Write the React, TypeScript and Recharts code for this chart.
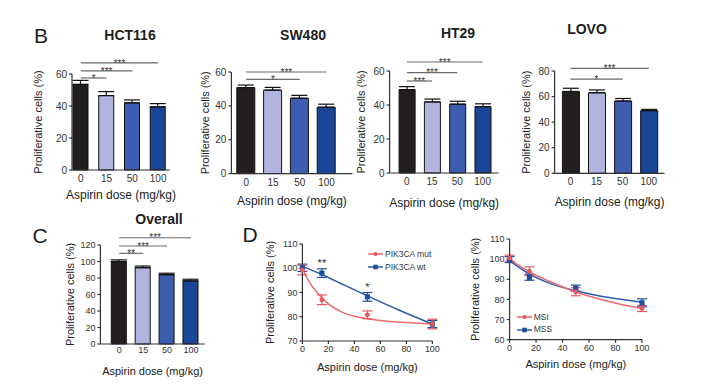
import React from "react";
import {
  BarChart,
  Bar,
  Cell,
  ErrorBar,
  XAxis,
  YAxis,
  ReferenceLine,
  ReferenceDot,
  ComposedChart,
  Line,
  Scatter,
  Legend,
} from "recharts";

// ---- data ----
const doses = ["0", "15", "50", "100"];

const hctMeans = [53.5, 46.5, 42, 39.5];
const hctErr = [2.5, 2.5, 1.8, 2];
const swMeans = [50.8, 49.3, 44.5, 39.2];
const swErr = [1.5, 1.6, 1.7, 1.8];
const htMeans = [49, 41.8, 40.5, 39];
const htErr = [1.8, 1.7, 1.7, 1.7];
const lovoMeans = [64, 63, 56.5, 49];
const lovoErr = [2.5, 2.2, 2, 1];
const allMeans = [100, 92.5, 84, 76.5];
const allErr = [2, 2, 1.8, 2];

// significance brackets: from dose "0" to `to`, drawn at level y
const hctSig = [
  { to: "15", y: 57.5, mark: "*" },
  { to: "50", y: 61.9, mark: "***" },
  { to: "100", y: 66.9, mark: "***" },
];
const swSig = [
  { to: "50", y: 55.7, mark: "*" },
  { to: "100", y: 60, mark: "***" },
];
const htSig = [
  { to: "15", y: 54.1, mark: "***" },
  { to: "50", y: 59, mark: "***" },
  { to: "100", y: 65.3, mark: "***" },
];
const lovoSig = [
  { to: "50", y: 73.7, mark: "*" },
  { to: "100", y: 82.1, mark: "***" },
];
const allSig = [
  { to: "15", y: 109.9, mark: "**" },
  { to: "50", y: 118.8, mark: "***" },
  { to: "100", y: 128.8, mark: "***" },
];

const doseNum = [0, 15, 50, 100];
const mutMeans = [99.3, 87, 80.8, 77];
const mutErr = [2, 2, 1.6, 2];
const wtMeans = [100.2, 98, 88.2, 77];
const wtErr = [1.5, 1.8, 1.8, 1.5];
const mutFitX = [0, 5, 10, 15, 20, 30, 40, 50, 60, 80, 100];
const mutFitY = [99.8, 94.6, 90.8, 87.8, 85.3, 82, 80.2, 79.2, 78.5, 77.6, 77];
const wtFitX = [0, 15, 30, 50, 75, 100];
const wtFitY = [100.8, 97.4, 93.6, 88.6, 82.6, 77];
const pikStars = [
  { x: 15, y: 102, mark: "**" },
  { x: 50, y: 92.3, mark: "*" },
];

const msiMeans = [100.5, 94, 83.8, 75.5];
const msiErr = [1.5, 2.2, 2, 1.5];
const mssMeans = [99.8, 91, 85.6, 78.3];
const mssErr = [1.5, 1.5, 1.5, 2];
const msiFitX = [0, 15, 30, 50, 75, 100];
const msiFitY = [100, 93.6, 89, 83.7, 79, 75.5];
const mssFitX = [0, 15, 30, 50, 75, 100];
const mssFitY = [99.3, 92.6, 88.1, 84.3, 80.9, 78.6];

const barFills = ["#231f20", "#b1b4de", "#3d5eb0", "#1b4597"];
const RED = "#e8585f";
const BLUE = "#1f4f9f";
const AXIS = "#333";
const YLABEL = "Proliferative cells (%)";
const XLABEL = "Aspirin dose (mg/kg)";

function Caption({ x, y, size, bold, children }: any) {
  return (
    <div
      style={{
        position: "absolute",
        left: x,
        top: y,
        transform: "translate(-50%, -50%)",
        fontSize: size,
        fontWeight: bold ? 700 : 400,
        lineHeight: 1,
        whiteSpace: "nowrap",
        color: "#1d1d1d",
      }}
    >
      {children}
    </div>
  );
}

function BarPanel(p: any) {
  const mt = 40;
  const mr = 8;
  const data = doses.map((d, i) => ({ dose: d, mean: p.means[i], err: [0, p.errs[i]] }));
  return (
    <div style={{ position: "absolute", left: p.x0 - p.yW, top: p.yTop - mt }}>
      <BarChart
        width={p.yW + p.pw + mr}
        height={mt + p.ph + p.xH}
        data={data}
        margin={{ top: mt, right: mr, bottom: 0, left: 0 }}
      >
        <XAxis
          dataKey="dose"
          height={p.xH}
          padding={p.pad}
          tickLine={false}
          tickSize={p.tickGap}
          tickMargin={1}
          stroke={AXIS}
          strokeWidth={1.2}
          tick={{ fontSize: p.tickFont, fill: AXIS }}
          label={{ value: XLABEL, position: "center", fontSize: p.xFont, fill: "#222" }}
        />
        <YAxis
          width={p.yW}
          domain={[0, p.yMax]}
          ticks={p.yTicks}
          tickSize={3}
          tickMargin={2}
          stroke={AXIS}
          strokeWidth={1.2}
          tick={{ fontSize: p.tickFont, fill: AXIS }}
          label={{ value: YLABEL, angle: -90, position: "center", fontSize: 11, fill: "#222" }}
        />
        <Bar dataKey="mean" barSize={p.barSize} stroke="#111" strokeWidth={1} isAnimationActive={false}>
          {data.map((_, i) => (
            <Cell key={i} fill={barFills[i]} />
          ))}
          <ErrorBar dataKey="err" width={8} stroke="#111" strokeWidth={1.2} />
        </Bar>
        {p.sigs.map((s: any) => (
          <ReferenceLine
            key={s.to}
            segment={[
              { x: "0", y: s.y },
              { x: s.to, y: s.y },
            ]}
            stroke="#6a6a6a"
            strokeWidth={1.2}
            ifOverflow="visible"
            label={{ value: s.mark, position: "center", fontSize: 10, fill: "#333" }}
          />
        ))}
      </BarChart>
    </div>
  );
}

function DoseLegend({ payload }: any) {
  const items = (payload || [])
    .filter((it: any) => it.type === "square" || it.type === "circle")
    .sort((a: any, b: any) => (a.value < b.value ? -1 : 1));
  return (
    <div style={{ fontSize: 8.5, color: "#333", lineHeight: "12.5px" }}>
      {items.map((it: any) => (
        <div key={it.value} style={{ display: "flex", alignItems: "center", whiteSpace: "nowrap" }}>
          <svg width={15} height={8}>
            <line x1={0} y1={4} x2={15} y2={4} stroke={it.color} strokeWidth={1.4} />
            {it.type === "square" ? (
              <rect x={5.2} y={1.7} width={4.6} height={4.6} fill={it.color} />
            ) : (
              <circle cx={7.5} cy={4} r={2.1} fill={it.color} />
            )}
          </svg>
          <span style={{ marginLeft: 2 }}>{it.value}</span>
        </div>
      ))}
    </div>
  );
}

const dot = (color: string) => (s: any) => <circle cx={s.cx} cy={s.cy} r={2.4} fill={color} />;
const sq = (color: string) => (s: any) => (
  <rect x={s.cx - 2.6} y={s.cy - 2.6} width={5.2} height={5.2} fill={color} />
);

function CurvePanel(p: any) {
  const mt = 10;
  const mr = 10;
  const pts = (m: number[], e: number[]) => doseNum.map((x, i) => ({ x, y: m[i], e: e[i] }));
  const fit = (xs: number[], ys: number[]) => xs.map((x, i) => ({ x, y: ys[i] }));
  return (
    <div style={{ position: "absolute", left: p.x0 - p.yW, top: p.yTop - mt }}>
      <ComposedChart
        width={p.yW + p.pw + mr}
        height={mt + p.ph + p.xH}
        margin={{ top: mt, right: mr, bottom: 0, left: 0 }}
      >
        <XAxis
          type="number"
          dataKey="x"
          domain={[0, 100]}
          ticks={[0, 20, 40, 60, 80, 100]}
          height={p.xH}
          tickSize={3}
          tickMargin={1.5}
          stroke={AXIS}
          strokeWidth={1.2}
          tick={{ fontSize: 9, fill: AXIS }}
          label={{ value: XLABEL, position: "center", fontSize: 11, fill: "#222" }}
        />
        <YAxis
          type="number"
          width={p.yW}
          domain={p.domain}
          ticks={p.yTicks}
          tickSize={3}
          tickMargin={2}
          stroke={AXIS}
          strokeWidth={1.2}
          tick={{ fontSize: 9, fill: AXIS }}
          label={{ value: YLABEL, angle: -90, position: "center", fontSize: 11, fill: "#222" }}
        />
        <Line
          data={fit(p.blueFitX, p.blueFitY)}
          dataKey="y"
          type="monotone"
          stroke="#2b5ca9"
          strokeWidth={1.5}
          dot={false}
          legendType="none"
          isAnimationActive={false}
        />
        <Scatter
          name={p.blueName}
          data={pts(p.blueMeans, p.blueErr)}
          dataKey="y"
          fill={BLUE}
          legendType="square"
          shape={sq(BLUE)}
          isAnimationActive={false}
        >
          <ErrorBar dataKey="e" direction="y" width={5} stroke={BLUE} strokeWidth={1.2} />
        </Scatter>
        <Line
          data={fit(p.redFitX, p.redFitY)}
          dataKey="y"
          type="monotone"
          stroke="#ec6b70"
          strokeWidth={1.5}
          dot={false}
          legendType="none"
          isAnimationActive={false}
        />
        <Scatter
          name={p.redName}
          data={pts(p.redMeans, p.redErr)}
          dataKey="y"
          fill={RED}
          legendType="circle"
          shape={dot(RED)}
          isAnimationActive={false}
        >
          <ErrorBar dataKey="e" direction="y" width={5} stroke={RED} strokeWidth={1.2} />
        </Scatter>
        {(p.stars || []).map((s: any) => (
          <ReferenceDot
            key={s.x}
            x={s.x}
            y={s.y}
            r={0}
            fill="none"
            stroke="none"
            ifOverflow="visible"
            label={{ value: s.mark, position: "center", fontSize: 11, fill: "#333" }}
          />
        ))}
        <Legend
          layout="vertical"
          align="center"
          verticalAlign="middle"
          content={<DoseLegend />}
          wrapperStyle={{ left: p.legendX, top: p.legendY, width: "auto" }}
        />
      </ComposedChart>
    </div>
  );
}

export default function App() {
  return (
    <div
      style={{
        position: "absolute",
        left: 0,
        top: 0,
        width: 707,
        height: 386,
        background: "#fff",
        overflow: "hidden",
        fontFamily: "'Liberation Sans', Arial, sans-serif",
      }}
    >
      <Caption x={41} y={35} size={21}>B</Caption>
      <Caption x={130} y={35} size={14} bold>HCT116</Caption>
      <Caption x={303} y={35} size={14} bold>SW480</Caption>
      <Caption x={458} y={33} size={14} bold>HT29</Caption>
      <Caption x={587} y={29} size={14} bold>LOVO</Caption>
      <Caption x={40} y={235} size={21}>C</Caption>
      <Caption x={159} y={219} size={14} bold>Overall</Caption>
      <Caption x={250} y={234} size={21}>D</Caption>

      <BarPanel
        x0={72} yTop={74} pw={98} ph={96} yW={68} xH={50}
        pad={{ left: -4, right: -1 }} barSize={15}
        means={hctMeans} errs={hctErr} yMax={60} yTicks={[0, 20, 40, 60]}
        sigs={hctSig} tickFont={10} tickGap={4} xFont={12}
      />
      <BarPanel
        x0={231.7} yTop={71.7} pw={121} ph={101.6} yW={53.4} xH={53.4}
        pad={{ left: 1.4, right: 12.4 }} barSize={18}
        means={swMeans} errs={swErr} yMax={60} yTicks={[0, 20, 40, 60]}
        sigs={swSig} tickFont={10} tickGap={4} xFont={12}
      />
      <BarPanel
        x0={390} yTop={70.7} pw={109} ph={102} yW={56.6} xH={58.6}
        pad={{ left: 4.5, right: 3.3 }} barSize={16}
        means={htMeans} errs={htErr} yMax={60} yTicks={[0, 20, 40, 60]}
        sigs={htSig} tickFont={10} tickGap={4} xFont={12}
      />
      <BarPanel
        x0={555} yTop={71} pw={110} ph={102.3} yW={56.6} xH={57.4}
        pad={{ left: 2.8, right: 2.8 }} barSize={17}
        means={lovoMeans} errs={lovoErr} yMax={80} yTicks={[0, 20, 40, 60, 80]}
        sigs={lovoSig} tickFont={10} tickGap={4} xFont={12}
      />
      <BarPanel
        x0={100.7} yTop={245} pw={104.3} ph={99} yW={61.4} xH={53.4}
        pad={{ left: 6.9, right: 1.8 }} barSize={15}
        means={allMeans} errs={allErr} yMax={120} yTicks={[0, 20, 40, 60, 80, 100, 120]}
        sigs={allSig} tickFont={9} tickGap={2} xFont={11}
      />

      <CurvePanel
        x0={302.7} yTop={244} pw={130} ph={97} yW={65.4} xH={51.4}
        domain={[70, 110]} yTicks={[70, 80, 90, 100, 110]}
        redName="PIK3CA mut" redMeans={mutMeans} redErr={mutErr} redFitX={mutFitX} redFitY={mutFitY}
        blueName="PIK3CA wt" blueMeans={wtMeans} blueErr={wtErr} blueFitX={wtFitX} blueFitY={wtFitY}
        stars={pikStars} legendX={130.7} legendY={14}
      />
      <CurvePanel
        x0={509.3} yTop={239.3} pw={132.4} ph={100.7} yW={68.6} xH={48.6}
        domain={[60, 110]} yTicks={[60, 70, 80, 90, 100, 110]}
        redName="MSI" redMeans={msiMeans} redErr={msiErr} redFitX={msiFitX} redFitY={msiFitY}
        blueName="MSS" blueMeans={mssMeans} blueErr={mssErr} blueFitX={mssFitX} blueFitY={mssFitY}
        legendX={76} legendY={81.7}
      />
    </div>
  );
}
